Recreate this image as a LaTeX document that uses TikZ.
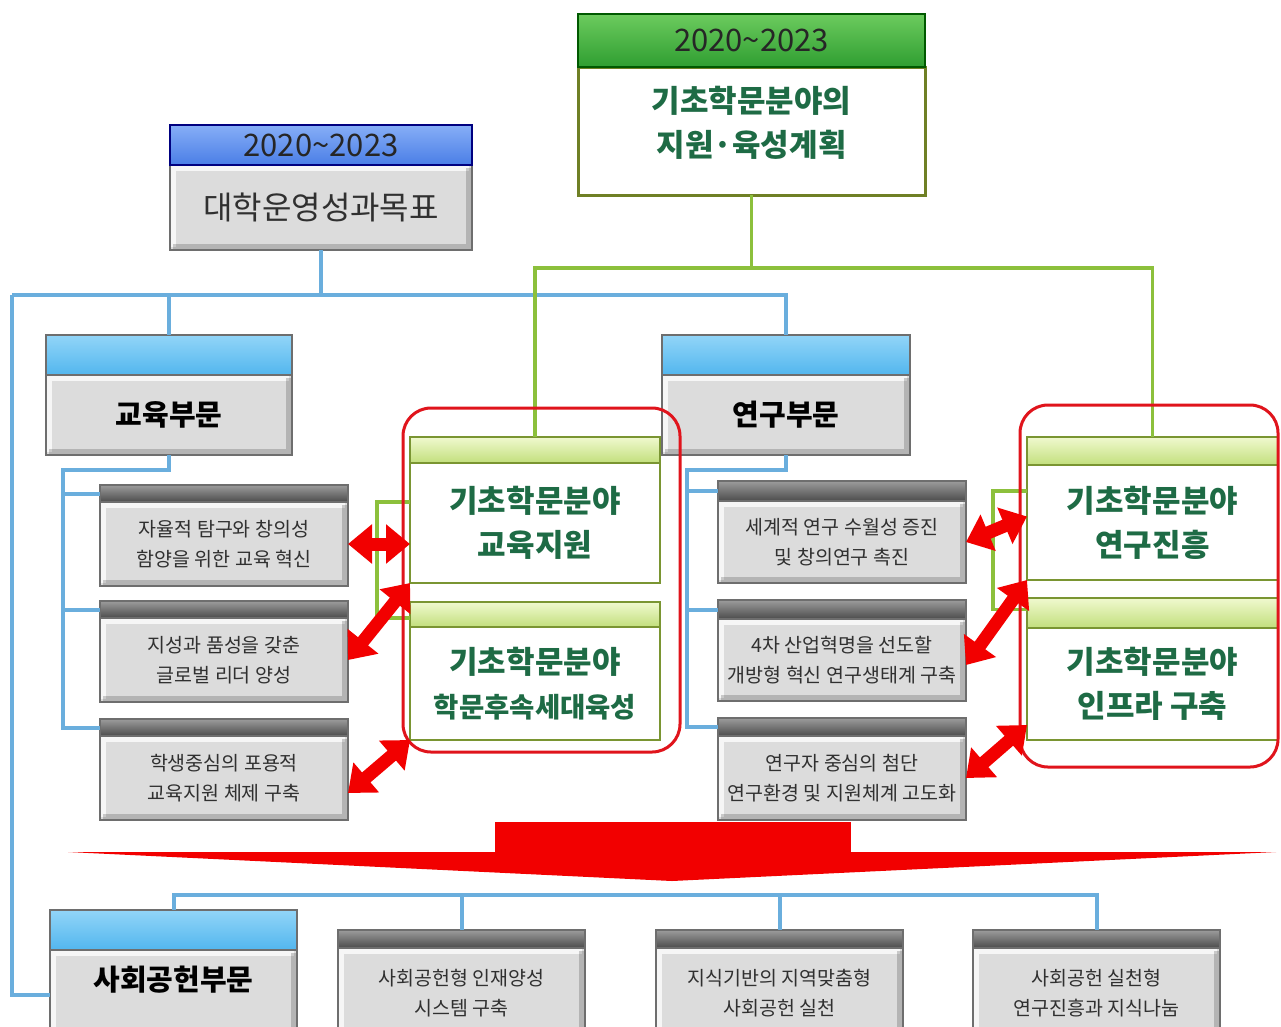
\documentclass[tikz,border=0pt]{standalone}
\usepackage{fontspec}
\setmainfont{Noto Sans CJK KR}
\usetikzlibrary{positioning,arrows.meta}
\definecolor{linkblue}{HTML}{6AAEDD}
\definecolor{linkgreen}{HTML}{8CC03C}
\definecolor{arrowred}{HTML}{F20000}
\definecolor{framered}{HTML}{E0141C}
\definecolor{bodygray}{HTML}{DCDCDC}
\definecolor{edgegray}{HTML}{6E6E6E}
\definecolor{textgray}{HTML}{303030}
\definecolor{textgreen}{HTML}{1E6B45}
\definecolor{edgegreen}{HTML}{7A9532}
\definecolor{edgeolive}{HTML}{6F8025}
\definecolor{skytop}{HTML}{92D5F8}
\definecolor{skybot}{HTML}{52B6EE}
\definecolor{bluetop}{HTML}{86AEF7}
\definecolor{bluebot}{HTML}{4A7EE6}
\definecolor{greentop}{HTML}{6CCB5E}
\definecolor{greenbot}{HTML}{2F9E31}
\definecolor{limetop}{HTML}{F0F9CF}
\definecolor{limebot}{HTML}{C2DF7C}
\definecolor{darktop}{HTML}{9C9C9C}
\definecolor{darkbot}{HTML}{4C4C4C}
\tikzset{
	box/.style={inner sep=0pt, outer sep=0pt, align=center},
	graybody/.style={box, anchor=north west, draw=edgegray, line width=1.2pt, fill=bodygray, text=textgray,
		path picture={
			\draw[white, opacity=.75, line width=6pt] ([shift={(3pt,3pt)}]path picture bounding box.south west) |- ([shift={(-3pt,-3pt)}]path picture bounding box.north east);
			\draw[black, opacity=.18, line width=6pt] ([shift={(3pt,3pt)}]path picture bounding box.south west) -| ([shift={(-3pt,-3pt)}]path picture bounding box.north east);
		}},
	greenbody/.style={box, anchor=north west, draw=edgegreen, line width=2.5pt, fill=white, text=textgreen, font=\fontsize{31}{44}\selectfont\bfseries},
	darkhead/.style={box, draw=edgegray, line width=1.2pt, top color=darktop, bottom color=darkbot, minimum height=17pt},
	skyhead/.style={box, draw=edgegray, line width=1.2pt, top color=skytop, bottom color=skybot, minimum height=40pt},
	limehead/.style={box, draw=edgegreen, line width=1.2pt, top color=limetop, bottom color=limebot},
	greenhead/.style={box, draw=green!35!black, line width=1.5pt, top color=greentop, bottom color=greenbot, text=black!85, font=\fontsize{31}{36}\selectfont},
	bluehead/.style={box, draw=blue!50!black, line width=1.5pt, top color=bluetop, bottom color=bluebot, text=black!85, font=\fontsize{31}{36}\selectfont},
	subtext/.style={font=\fontsize{19.5}{30}\selectfont},
	sectext/.style={text=black, font=\fontsize{29}{34}\selectfont\bfseries},
	bluelink/.style={draw=linkblue, line width=4pt},
	greenlink/.style={draw=linkgreen, line width=3.5pt},
	redframe/.style={draw=framered, line width=3pt, rounded corners=28pt},
	redlink/.style={draw=arrowred, line width=13pt, {Triangle[length=24pt,width=38pt]}-{Triangle[length=24pt,width=38pt]}}
}
\begin{document}
\begin{tikzpicture}[x=1pt, y=-1pt]
		\clip (0,0) rectangle (1281,1026);
		\fill[white] (0,0) rectangle (1281,1026);
		\node[box, anchor=north west, draw=edgeolive, line width=3pt, fill=white, text=textgreen, minimum width=347pt, minimum height=128pt, text depth=20pt, font=\fontsize{31}{44}\selectfont\bfseries] (plan) at (578,67) {기초학문분야의\\지원·육성계획};
		\node[greenhead, minimum width=347pt, minimum height=53pt, above=0pt of plan] (planh) {2020\textasciitilde 2023};
		\node[graybody, minimum width=302pt, minimum height=85pt, font=\fontsize{32}{38}\selectfont] (goal) at (170,165) {대학운영성과목표};
		\node[bluehead, minimum width=302pt, minimum height=40pt, above=0pt of goal] (goalh) {2020\textasciitilde 2023};
		\node[graybody, sectext, minimum width=246pt, minimum height=80pt] (edu) at (46,375) {교육부문};
		\node[skyhead, minimum width=246pt, above=0pt of edu] (eduh) {};
		\node[graybody, sectext, minimum width=248pt, minimum height=80pt] (res) at (662,375) {연구부문};
		\node[skyhead, minimum width=248pt, above=0pt of res] (resh) {};
		\node[graybody, subtext, minimum width=248pt, minimum height=84pt] (eduA) at (100,502) {자율적 탐구와 창의성\\함양을 위한 교육 혁신};
		\node[darkhead, minimum width=248pt, above=0pt of eduA] (eduAh) {};
		\node[graybody, subtext, minimum width=248pt, minimum height=84pt] (eduB) at (100,618) {지성과 품성을 갖춘\\글로벌 리더 양성};
		\node[darkhead, minimum width=248pt, above=0pt of eduB] (eduBh) {};
		\node[graybody, subtext, minimum width=248pt, minimum height=84pt] (eduC) at (100,736) {학생중심의 포용적\\교육지원 체제 구축};
		\node[darkhead, minimum width=248pt, above=0pt of eduC] (eduCh) {};
		\node[graybody, subtext, minimum width=248pt, minimum height=82pt] (resA) at (718,501) {세계적 연구 수월성 증진\\및 창의연구 촉진};
		\node[darkhead, minimum width=248pt, minimum height=20pt, above=0pt of resA] (resAh) {};
		\node[graybody, subtext, minimum width=248pt, minimum height=82pt] (resB) at (718,619) {4차 산업혁명을 선도할\\개방형 혁신 연구생태계 구축};
		\node[darkhead, minimum width=248pt, minimum height=19pt, above=0pt of resB] (resBh) {};
		\node[graybody, subtext, minimum width=248pt, minimum height=84pt] (resC) at (718,736) {연구자 중심의 첨단\\연구환경 및 지원체계 고도화};
		\node[darkhead, minimum width=248pt, minimum height=18pt, above=0pt of resC] (resCh) {};
		\node[greenbody, minimum width=250pt, minimum height=120pt] (supEdu) at (410,463) {기초학문분야\\교육지원};
		\node[limehead, minimum width=250pt, minimum height=26pt, above=0pt of supEdu] (supEduh) {};
		\node[greenbody, minimum width=250pt, minimum height=113pt] (supNext) at (410,627) {기초학문분야\\{\fontsize{27.5}{44}\selectfont 학문후속세대육성}};
		\node[limehead, minimum width=250pt, minimum height=25pt, above=0pt of supNext] (supNexth) {};
		\node[greenbody, minimum width=251pt, minimum height=115pt] (supRes) at (1027,465) {기초학문분야\\연구진흥};
		\node[limehead, minimum width=251pt, minimum height=28pt, above=0pt of supRes] (supResh) {};
		\node[greenbody, minimum width=251pt, minimum height=112pt] (supInfra) at (1027,628) {기초학문분야\\인프라 구축};
		\node[limehead, minimum width=251pt, minimum height=30pt, above=0pt of supInfra] (supInfrah) {};
		\node[graybody, sectext, minimum width=247pt, minimum height=90pt, text depth=34pt] (social) at (50,950) {사회공헌부문};
		\node[skyhead, minimum width=247pt, above=0pt of social] (socialh) {};
		\node[graybody, subtext, minimum width=247pt, minimum height=90pt] (socA) at (338,948) {사회공헌형 인재양성\\시스템 구축};
		\node[darkhead, minimum width=247pt, minimum height=18pt, above=0pt of socA] (socAh) {};
		\node[graybody, subtext, minimum width=247pt, minimum height=90pt] (socB) at (656,948) {지식기반의 지역맞춤형\\사회공헌 실천};
		\node[darkhead, minimum width=247pt, minimum height=18pt, above=0pt of socB] (socBh) {};
		\node[graybody, subtext, minimum width=247pt, minimum height=90pt] (socC) at (973,948) {사회공헌 실천형\\연구진흥과 지식나눔};
		\node[darkhead, minimum width=247pt, minimum height=18pt, above=0pt of socC] (socCh) {};
		\coordinate (busB) at (12,295);
		\coordinate (busG) at (0,268);
		\coordinate (busS) at (0,895);
		\coordinate (eduT) at (63,470);
		\coordinate (resT) at (687,470);
		\draw[bluelink] (goal.south) -- (goal.south |- busB);
		\draw[bluelink] (busB) -- (resh.north |- busB) -- (resh.north);
		\draw[bluelink] (eduh.north |- busB) -- (eduh.north);
		\draw[bluelink] (busB) |- (social.west);
		\draw[bluelink] (edu.south) |- (eduT) |- (eduCh.west);
		\draw[bluelink] (eduT |- eduAh.west) -- (eduAh.west);
		\draw[bluelink] (eduT |- eduBh.west) -- (eduBh.west);
		\draw[bluelink] (res.south) |- (resT) |- (resCh.west);
		\draw[bluelink] (resT |- resAh.west) -- (resAh.west);
		\draw[bluelink] (resT |- resBh.west) -- (resBh.west);
		\draw[bluelink] (socialh.north) |- (socCh.north |- busS) -- (socCh.north);
		\draw[bluelink] (socAh.north |- busS) -- (socAh.north);
		\draw[bluelink] (socBh.north |- busS) -- (socBh.north);
		\draw[greenlink] (plan.south) -- (plan.south |- busG);
		\draw[greenlink] (supEduh.north) |- (supResh.north |- busG) -- (supResh.north);
		\draw[greenlink] (supEdu.west |- eduA.north) -- ++(-33,0) |- (supNext.west |- eduB.north);
		\draw[greenlink] (supRes.west |- resAh.center) -- ++(-34,0) |- (supInfra.west |- resBh.center);
		\draw[redframe] (403,408) rectangle (680,752);
		\draw[redframe] (1020,405) rectangle (1278,767);
		\draw[redlink] (eduA.east) -- (eduA.east -| supEdu.west);
		\draw[redlink] (eduB.east) -- (supEdu.south west);
		\draw[redlink] ([yshift=-15pt]eduC.east) -- (supNext.south west);
		\draw[redlink] (resA.east) -- ([yshift=6pt]supRes.west);
		\draw[redlink] ([yshift=-5pt]resB.east) -- (supRes.south west);
		\draw[redlink] (resC.east) -- ([yshift=15pt]supInfra.south west);
		\fill[arrowred] (495,822) rectangle (851,853);
		\fill[arrowred] (68,852) -- (1276,852) -- (672,881) -- cycle;
	\end{tikzpicture}
\end{document}
